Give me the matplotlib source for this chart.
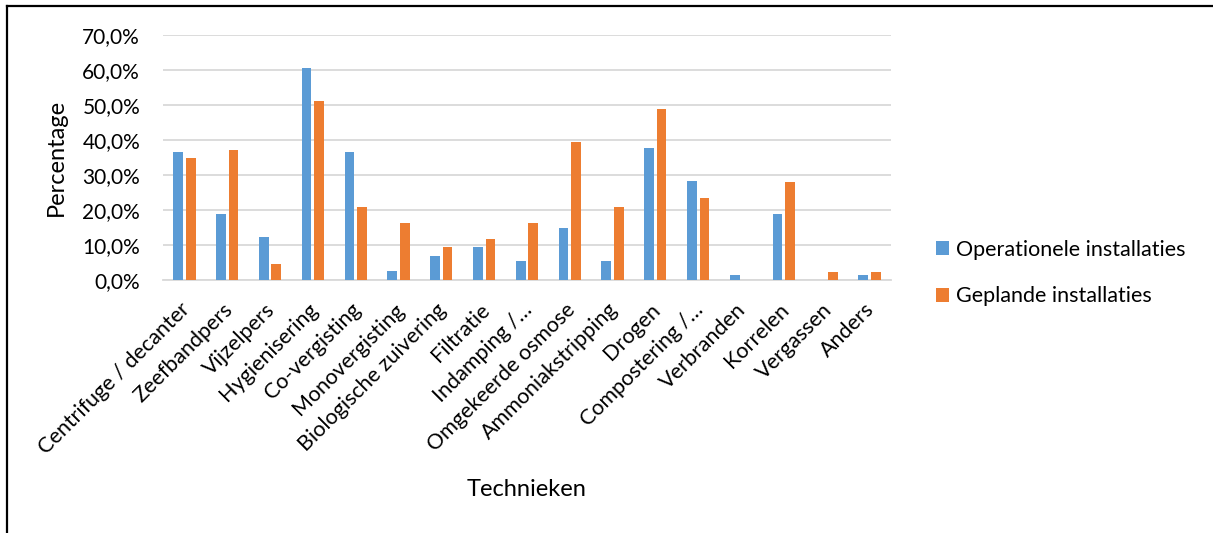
import matplotlib
matplotlib.use("Agg")
import matplotlib.pyplot as plt
import matplotlib.transforms as mtransforms
import numpy as np
from matplotlib.patches import Patch
from matplotlib.ticker import FuncFormatter
from matplotlib.lines import Line2D

plt.rcParams['font.family'] = ['Lato', 'DejaVu Sans']

categories = [
    "Centrifuge / decanter", "Zeefbandpers", "Vijzelpers", "Hygienisering",
    "Co-vergisting", "Monovergisting", "Biologische zuivering", "Filtratie",
    "Indamping /…", "Omgekeerde osmose", "Ammoniakstripping", "Drogen",
    "Compostering /…", "Verbranden", "Korrelen", "Vergassen", "Anders",
]
operationeel = [36.5, 18.8, 12.2, 60.7, 36.5, 2.7, 6.8, 9.5, 5.4, 14.9,
                5.4, 37.8, 28.4, 1.4, 18.8, 0.0, 1.4]
gepland = [34.9, 37.2, 4.7, 51.2, 20.9, 16.3, 9.3, 11.6, 16.3, 39.5,
           20.9, 48.8, 23.3, 0.0, 27.9, 2.3, 2.3]
series_names = ["Operationele installaties", "Geplande installaties"]
colors = ["#5B9BD5", "#ED7D31"]

fig = plt.figure(figsize=(12.13, 5.33), dpi=100)
ax = fig.add_axes([0.1344, 0.4747, 0.6000, 0.4596])

x = np.arange(len(categories))
w = 0.226
off = 0.146
ax.bar(x - off, operationeel, width=w, color=colors[0], zorder=3)
ax.bar(x + off, gepland, width=w, color=colors[1], zorder=3)

ax.set_xlim(-0.5, len(categories) - 0.5)
ax.set_ylim(0, 70)
ax.set_yticks(np.arange(0, 71, 10))
ax.yaxis.set_major_formatter(FuncFormatter(lambda v, p: f"{v:.1f}%".replace(".", ",")))
ax.grid(axis="y", color="#D9D9D9", linewidth=1.3, zorder=0)
ax.set_axisbelow(True)
for s in ["top", "right", "left"]:
    ax.spines[s].set_visible(False)
ax.spines["bottom"].set_color("#D9D9D9")
ax.spines["bottom"].set_linewidth(1.3)
ax.tick_params(axis="both", length=0, colors="black")
ax.tick_params(axis="y", pad=16.5, labelsize=15)
ax.set_xticks(x)
ax.set_xticklabels(categories, rotation=45, ha="right", va="top",
                   rotation_mode="anchor")
ax.tick_params(axis="x", pad=14, labelsize=15.5)

# nudge the rotated category labels slightly to the left
shift = mtransforms.ScaledTranslation(-5 / 100, 0, fig.dpi_scale_trans)
for lbl in ax.get_xticklabels():
    lbl.set_transform(lbl.get_transform() + shift)

ax.set_ylabel("Percentage", fontsize=17, labelpad=11)
fig.text(527 / 1213, 1 - 490 / 533, "Technieken", fontsize=17,
         ha="center", va="center")

handles = [Patch(facecolor=c) for c in colors]
fig.legend(handles, series_names, loc="center left",
           bbox_to_anchor=(927 / 1213, 1 - 273 / 533), frameon=False,
           fontsize=15.5, handlelength=0.62, handleheight=0.62,
           handletextpad=0.35, labelspacing=1.22, borderaxespad=0)

# outer frame: top and left edges
fig.add_artist(Line2D([6.5 / 1213, 1.0], [1 - 5.5 / 533, 1 - 5.5 / 533],
                      transform=fig.transFigure, color="black", linewidth=1.6))
fig.add_artist(Line2D([6.5 / 1213, 6.5 / 1213], [0, 1 - 5.5 / 533],
                      transform=fig.transFigure, color="black", linewidth=1.6))

fig.savefig("out.png", dpi=100)
